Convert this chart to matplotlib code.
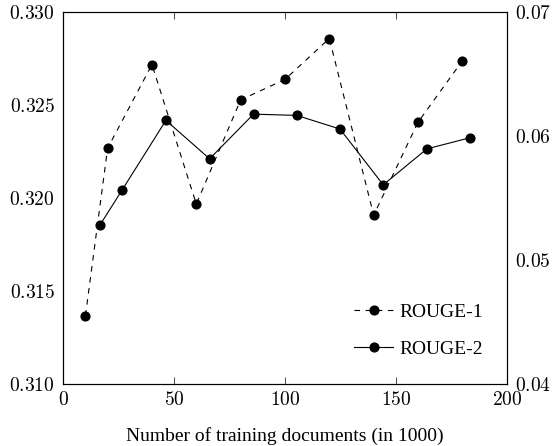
import matplotlib
matplotlib.use("Agg")
import matplotlib.pyplot as plt
from matplotlib.ticker import FuncFormatter

plt.rcParams['font.family'] = ['Liberation Serif', 'DejaVu Serif']
plt.rcParams['mathtext.fontset'] = 'cm'

# ROUGE-1 (left axis, dashed)
docs_r1 = [10, 20, 40, 60, 80, 100, 120, 140, 160, 180]
rouge1 = [0.3137, 0.3227, 0.3272, 0.3197, 0.3253, 0.3264, 0.3286, 0.3191, 0.3241, 0.3274]

# ROUGE-2 (right axis, solid)
docs_r2 = [16.7, 26.6, 46.3, 66.0, 85.8, 105.3, 124.8, 144.3, 164.0, 183.5]
rouge2 = [0.0529, 0.0557, 0.0613, 0.0582, 0.0618, 0.0617, 0.0606, 0.0561, 0.0590, 0.0599]

xticks = [0, 50, 100, 150, 200]
yticks_left = [0.310, 0.315, 0.320, 0.325, 0.330]
yticks_right = [0.04, 0.05, 0.06, 0.07]

fig = plt.figure(figsize=(5.55, 4.46), dpi=100)
ax = fig.add_axes([0.114, 0.138, 0.799, 0.834])
ax2 = ax.twinx()

l1, = ax.plot(docs_r1, rouge1, color='black', lw=0.8, ls=(0, (5, 5)),
              marker='o', markersize=6.3, label='ROUGE-1')
l2, = ax2.plot(docs_r2, rouge2, color='black', lw=0.8,
               marker='o', markersize=6.3, label='ROUGE-2')

ax.set_xlim(0, 200)
ax.set_ylim(0.310, 0.330)
ax2.set_ylim(0.04, 0.07)
ax.set_xticks(xticks)
ax.set_yticks(yticks_left)
ax2.set_yticks(yticks_right)

ax.xaxis.set_major_formatter(FuncFormatter(lambda v, p: r'$%d$' % v))
ax.yaxis.set_major_formatter(FuncFormatter(lambda v, p: r'$%.3f$' % v))
ax2.yaxis.set_major_formatter(FuncFormatter(lambda v, p: r'$%.2f$' % v))

ax.tick_params(axis='x', direction='in', top=True, length=5, width=0.5,
               labelsize=14, pad=5)
ax.tick_params(axis='y', length=0, labelsize=14, pad=6)
ax2.tick_params(axis='y', length=0, labelsize=14, pad=6)

for a in (ax, ax2):
    for s in a.spines.values():
        s.set_linewidth(0.8)

ax.set_xlabel('Number of training documents (in 1000)', fontsize=14, labelpad=13)

ax2.legend([l1, l2], ['ROUGE-1', 'ROUGE-2'], loc='lower right',
           bbox_to_anchor=(0.985, 0.025), frameon=False, fontsize=14,
           handlelength=2.0, handletextpad=0.3, labelspacing=1.0)

fig.savefig('out.png', dpi=100)
